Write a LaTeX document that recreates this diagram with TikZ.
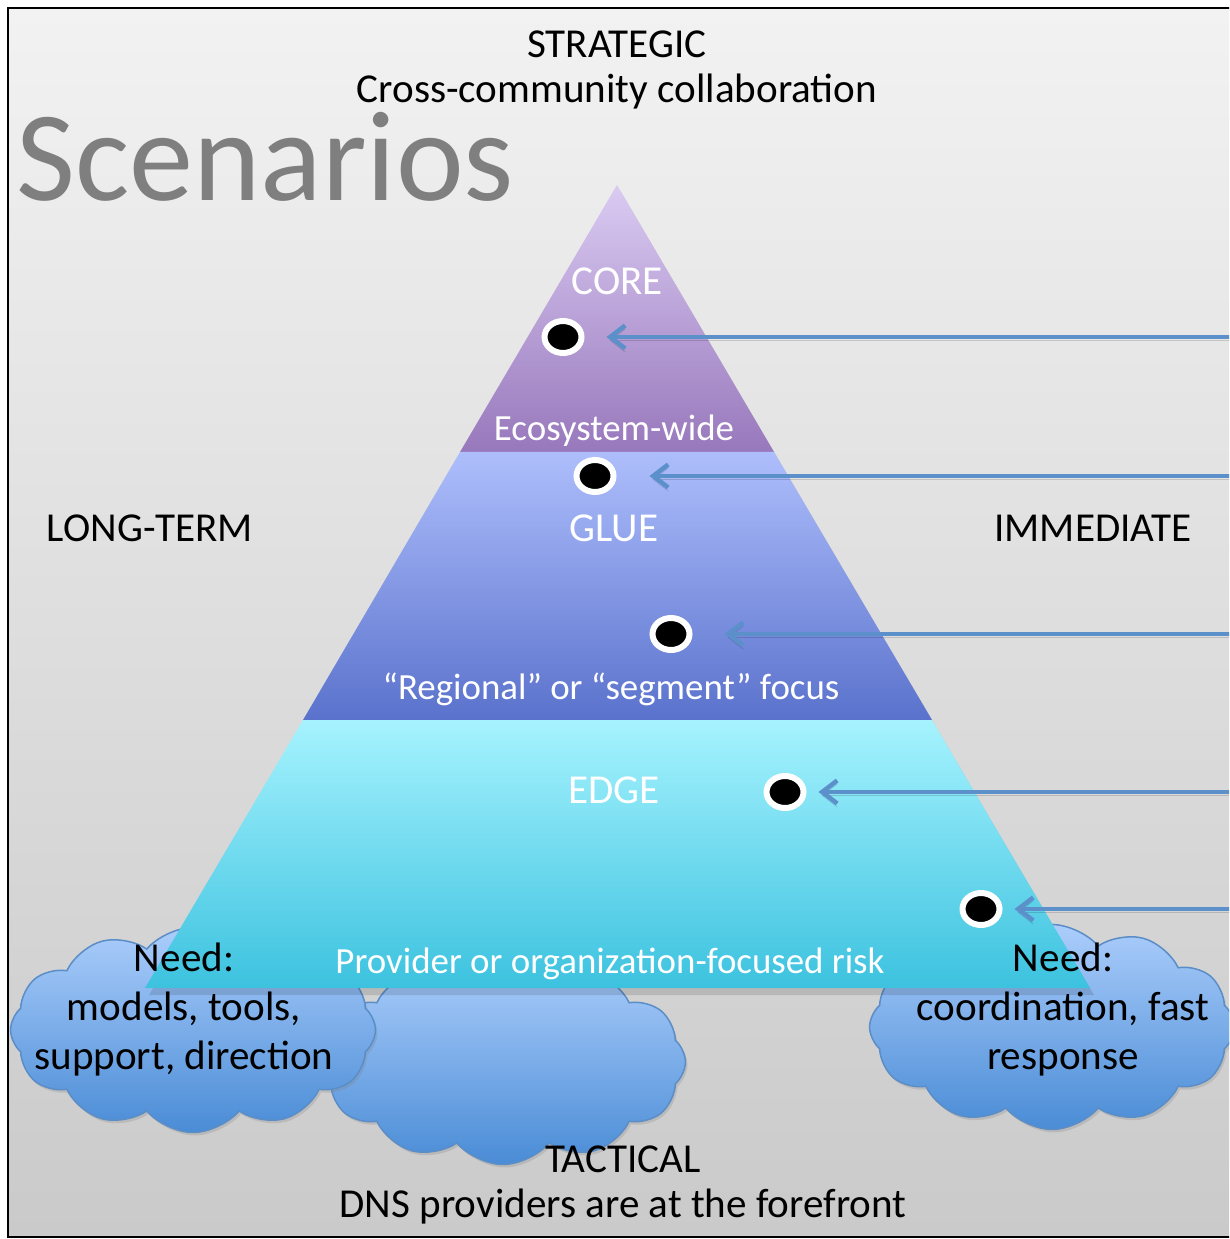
\documentclass[tikz,border=0pt]{standalone}
\usepackage{fontspec}
\setmainfont{Carlito}
\usetikzlibrary{shapes.geometric,shapes.symbols,arrows.meta,shadows}

\definecolor{bgtop}{HTML}{F2F2F2}
\definecolor{bgbot}{HTML}{CACACA}
\definecolor{coretop}{HTML}{DACBF2}
\definecolor{corebot}{HTML}{9878BC}
\definecolor{gluetop}{HTML}{AEBEFC}
\definecolor{gluebot}{HTML}{5A72CC}
\definecolor{edgetop}{HTML}{A6F3FE}
\definecolor{edgebot}{HTML}{3CC2DF}
\definecolor{cloudtop}{HTML}{ABCDFB}
\definecolor{cloudbot}{HTML}{4A8CD6}
\definecolor{cloudline}{HTML}{5B8DC6}
\definecolor{arrowblue}{HTML}{5B90CA}
\definecolor{titlegray}{HTML}{7F7F7F}

\tikzset{
  biglabel/.style={font=\fontsize{23.4}{27.9}\selectfont, inner sep=0pt},
  bandlabel/.style={biglabel, text=white},
  bandnote/.style={bandlabel, font=\fontsize{21}{25}\selectfont},
  needcloud/.style={shape=cloud, cloud puffs=12, cloud puff arc=100, aspect=1.8,
    draw=cloudline, line width=0.03cm, top color=cloudtop, bottom color=cloudbot,
    minimum width=7.3cm, minimum height=4.1cm, inner sep=0pt,
    drop shadow={opacity=0.25, shadow xshift=0.04cm, shadow yshift=-0.06cm}},
  spot/.style={ellipse, fill=black, draw=white, line width=0.12cm,
    minimum width=0.74cm, minimum height=0.64cm, inner sep=0pt},
  pointer/.style={draw=arrowblue, line width=0.09cm,
    -{Straight Barb[length=0.3cm, width=0.46cm]},
    preaction={draw=black, opacity=0.15, transform canvas={yshift=-0.07cm}}}
}

\begin{document}
\begin{tikzpicture}[x=0.02cm, y=-0.02cm]
    \useasboundingbox (0,0) rectangle (1229,1239);
    \clip (0,0) rectangle (1229,1239);

    % Background and frame
    \shade[top color=bgtop, bottom color=bgbot] (8,8) rectangle (1240,1237);
    \draw[line width=0.05cm] (1240,8) -- (8,8) -- (8,1237) -- (1240,1237);

    % Clouds under the pyramid
    \node[needcloud] (cloudmid) at (503,1062) {};
    \node[needcloud] (cloudleft) at (193,1030) {};
    \node[needcloud] (cloudright) at (1052,1027) {};

    % Pyramid shadow and bands
    \fill[black, opacity=0.12] (621,192) -- (149,995) -- (1094,995) -- cycle;
    \shade[top color=coretop, bottom color=corebot] (617,185) -- (460,452) -- (774,452) -- cycle; % CORE
    \shade[top color=gluetop, bottom color=gluebot] (460,452) -- (303,720) -- (932,720) -- (774,452) -- cycle; % GLUE
    \shade[top color=edgetop, bottom color=edgebot] (303,720) -- (145,988) -- (1090,988) -- (932,720) -- cycle; % EDGE

    % Band labels
    \node[bandlabel] (core) at (617,281) {CORE};
    \node[bandnote] (corenote) at (614,431) {Ecosystem-wide};
    \node[bandlabel] (glue) at (614,528) {GLUE};
    \node[bandnote] (gluenote) at (611,689) {“Regional” or “segment” focus};
    \node[bandlabel] (edge) at (614,790) {EDGE};
    \node[bandnote] (edgenote) at (610,964) {Provider or organization-focused risk};

    % Outer labels
    \node[text=titlegray, font=\fontsize{73}{80}\selectfont, anchor=west, inner sep=0pt] (title) at (16,157) {Scenarios};
    \node[biglabel] (strategic) at (617,44) {STRATEGIC};
    \node[biglabel] (strategicnote) at (617,92) {Cross-community collaboration};
    \node[biglabel] (longterm) at (150,528) {LONG-TERM};
    \node[biglabel] (immediate) at (1093,528) {IMMEDIATE};
    \node[biglabel] (tactical) at (623,1159) {TACTICAL};
    \node[biglabel] (tacticalnote) at (623,1207) {DNS providers are at the forefront};

    % Needs in the clouds
    \node[biglabel, align=center] (needleft) at (184,1010) {Need:\\ models, tools,\\ support, direction};
    \node[biglabel, align=center] (needright) at (1063,1010) {Need:\\ coordination, fast\\ response};

    % Dots with arrows from the right
    \foreach \n/\x/\y/\gap in {1/563/337/0.44, 2/595/476/0.66, 3/671/634/0.64, 4/785/792/0.24, 5/981/909/0.24} {
        \node[spot] (d\n) at (\x,\y) {};
        \coordinate (r\n) at (1245,\y);
        \draw[pointer, shorten >=\gap cm] (r\n) -- (d\n);
    }
\end{tikzpicture}
\end{document}
